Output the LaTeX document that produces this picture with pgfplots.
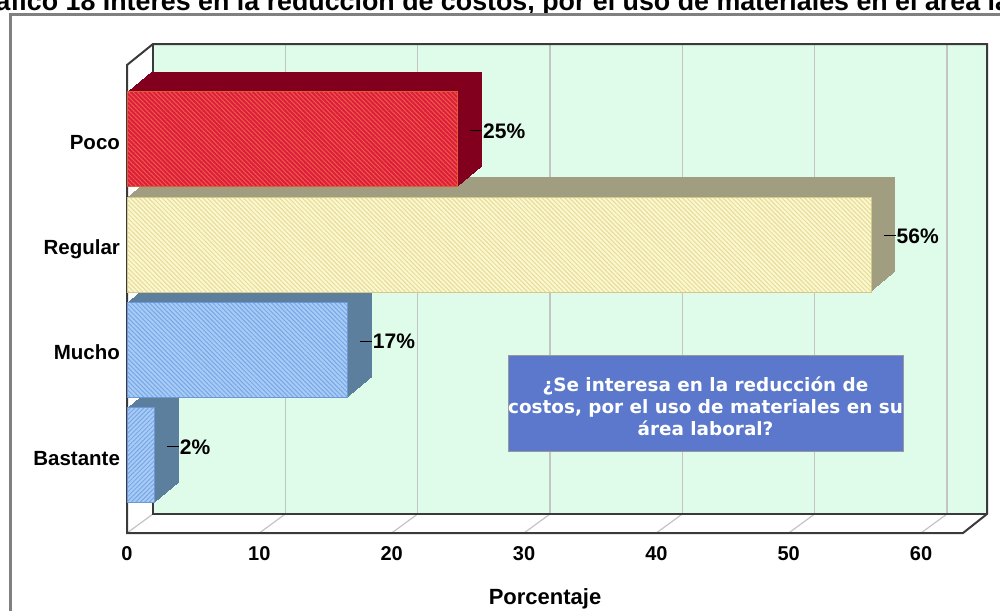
\documentclass[border=0pt]{standalone}
\usepackage{pgfplots}
\pgfplotsset{compat=1.18}
\usepackage{fontspec}
\setmainfont{Liberation Sans}
\newfontfamily\boxfont{DejaVu Sans}
\usetikzlibrary{patterns.meta}
\definecolor{mint}{HTML}{DFFCEB}
\definecolor{framegray}{HTML}{808080}
\definecolor{edgedark}{HTML}{3A3A3A}
\definecolor{gridgray}{HTML}{C4C4C4}
\definecolor{pocofront}{HTML}{DC1E3C}
\definecolor{pocohatch}{HTML}{EE5A48}
\definecolor{pocoedge}{HTML}{E05A3A}
\definecolor{pocoside}{HTML}{82001E}
\definecolor{regfront}{HTML}{FBF7CF}
\definecolor{reghatch}{HTML}{E6DB9A}
\definecolor{regedge}{HTML}{D4C98A}
\definecolor{regside}{HTML}{A09D80}
\definecolor{bluefront}{HTML}{A8CCF6}
\definecolor{bluehatch}{HTML}{78A6E6}
\definecolor{blueedge}{HTML}{6C98DA}
\definecolor{blueside}{HTML}{5C7F9E}
\definecolor{boxblue}{HTML}{5B78CC}

% depth extrusion of one bar: value, category, colour
\newcommand\extrude[3]{%
  \pgfplotsinvokeforeach{1,...,24}{%
    \addplot[xbar, bar width=47.5pt, bar shift=0pt, draw=none, fill=#3,
      xshift=##1*0.5pt, yshift=##1*0.4167pt, forget plot] coordinates {(#1,#2)};
  }%
}

\begin{document}
\begin{tikzpicture}
% pixel frame: 1 px = 0.5pt, origin of the axis (x=0, front bottom) at px (127, 533)
\begin{scope}[x=0.5pt,y=0.5pt,shift={(-127,-77)}]
\useasboundingbox (0,0) rectangle (1000,610);
\clip (0,0) rectangle (1000,610);
% title (cut by the edge of the picture, as in the reference)
\node[anchor=base west, inner sep=0, font=\fontsize{13.4}{15}\selectfont\bfseries]
  at (-36,600) {Gráfico 18 Interés en la reducción de costos, por el uso de materiales en el área laboral};
% outer frame
\draw[framegray, line width=1.5pt] (11,596) rectangle (1030,-30);
% 3D box: back wall, left wall, floor
\fill[mint] (153,96) rectangle (987,566);
\fill[white] (127,77) -- (153,96) -- (153,566) -- (127,545) -- cycle;
\fill[white] (127,77) -- (153,96) -- (987,96) -- (963,77) -- cycle;
\foreach \k in {1,...,6} {
  \draw[gridgray, line width=0.6pt] (153+132.33*\k,96) -- (153+132.33*\k,566);
}
\foreach \k in {0,...,6} {
  \draw[gridgray, line width=0.6pt] (127+132.33*\k,77) -- (153+132.33*\k,96);
}
\draw[edgedark, line width=1pt] (153,566) -- (153,96) -- (987,96);
\draw[edgedark, line width=1pt, line join=miter]
  (127,77) -- (127,545) -- (153,566) -- (987,566) -- (987,96) -- (963,77) -- cycle;
\end{scope}

\begin{axis}[
  at={(0,0)}, anchor=south west,
  scale only axis, width=418pt, height=234pt,
  xmin=0, xmax=63.17, ymin=0.264, ymax=4.707,
  clip=false,
  axis line style={draw=none},
  major tick length=0pt,
  xtick={0,10,...,60},
  ytick={1,2,3,4},
  yticklabels={Bastante,Mucho,Regular,Poco},
  /pgf/number format/assume math mode=true,
  tick label style={font=\fontsize{10}{12}\selectfont\bfseries},
  xticklabel style={anchor=base, yshift=-13.5pt},
  yticklabel style={anchor=base east, xshift=0pt, yshift=-4.8pt, font=\fontsize{10.25}{12}\selectfont\bfseries},
  xlabel={Porcentaje},
  xlabel style={at={(axis description cs:0.5,0)}, anchor=base, yshift=-35.5pt,
    font=\fontsize{11}{13}\selectfont\bfseries},
  frontbar/.style={xbar, bar width=47.5pt, bar shift=0pt, line width=0.5pt,
    point meta=x,
    nodes near coords={\rule[3.6pt]{6pt}{0.5pt}\hspace{0.6pt}\pgfmathprintnumber[fixed,precision=0]{\pgfplotspointmeta}\%},
    every node near coord/.append style={anchor=west, inner sep=0pt, xshift=5.8pt, yshift=4.3pt,
      font=\fontsize{10.5}{12}\selectfont\bfseries, text=black}},
]
% Bastante (2%)
\extrude{2.08}{1}{blueside}
\addplot[frontbar, draw=blueedge, fill=bluefront,
  postaction={pattern={Lines[angle=45,distance=1.6pt,line width=0.5pt]}, pattern color=bluehatch}]
  coordinates {(2.08,1)};
% Mucho (17%)
\extrude{16.67}{2}{blueside}
\addplot[frontbar, draw=blueedge, fill=bluefront,
  postaction={pattern={Lines[angle=-45,distance=1.6pt,line width=0.5pt]}, pattern color=bluehatch}]
  coordinates {(16.67,2)};
% Regular (56%)
\extrude{56.25}{3}{regside}
\addplot[frontbar, draw=regedge, fill=regfront,
  postaction={pattern={Lines[angle=-45,distance=1.6pt,line width=0.5pt]}, pattern color=reghatch}]
  coordinates {(56.25,3)};
% Poco (25%)
\extrude{25}{4}{pocoside}
\addplot[frontbar, draw=pocoedge, fill=pocofront,
  postaction={pattern={Lines[angle=-45,distance=1.6pt,line width=0.5pt]}, pattern color=pocohatch}]
  coordinates {(25,4)};
\end{axis}

% question box
\begin{scope}[x=0.5pt,y=0.5pt,shift={(-127,-77)}]
\fill[boxblue] (508,159) rectangle (903,255);
\draw[gray!80, line width=0.5pt] (508,159) rectangle (903,255);
\node[align=center, text=white, inner sep=0, font=\boxfont\fontsize{9.2}{11}\selectfont\bfseries]
  at (705.5,204) {¿Se interesa en la reducción de\\costos, por el uso de materiales en su\\área laboral?};
\end{scope}
\end{tikzpicture}
\end{document}
